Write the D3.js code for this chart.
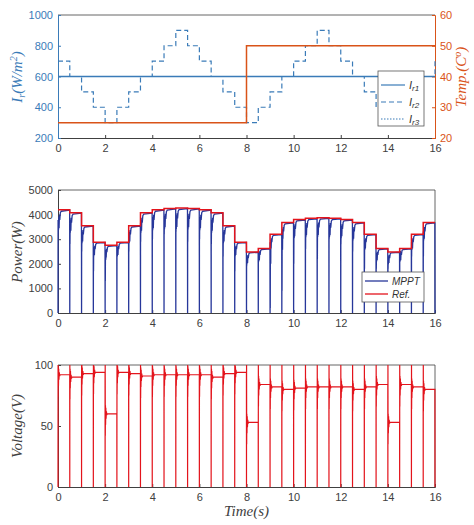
<!DOCTYPE html><html><head><meta charset="utf-8"><script src="https://cdn.jsdelivr.net/npm/d3@7"></script>
<style>body{margin:0;background:#fff}text{font-family:"Liberation Sans",Arial,sans-serif}</style></head><body><svg id="c" width="474" height="525"></svg>
<script>
const steps = d3.range(0,16,0.5);
const ir1 = 600;
const ir2 = [700,600,500,400,300,400,500,600,700,800,900,800,700,600,500,400,300,400,500,600,700,800,900,800,700,600,500,400,300,400,500,600];
const tempT = [0,8,8,16];
const tempV = [25,25,50,50];
const powerRef = [4200,4080,3550,2880,2750,2880,3550,4080,4200,4250,4270,4250,4200,4080,3550,2880,2480,2620,3200,3680,3800,3850,3870,3850,3800,3680,3200,2620,2480,2620,3200,3680];
const powerDip = [3200,2800,2500,1700,1300,2300,2500,2900,3000,3200,3300,2900,3000,2800,2300,1700,1900,2400,200,900,2000,2600,2200,3000,2800,2500,1800,1800,1800,2400,2300,2300];
const voltLevel = [92,90,93,94,60,94,93,91,92,92,92,92,92,90,93,94,53,84,82,80,81,82,82,82,82,80,82,84,53,84,82,80];
const xTicks = [0,2,4,6,8,10,12,14,16];

const svg=d3.select("#c");
const L=58,R=435;
const x=d3.scaleLinear().domain([0,16]).range([L,R]);
const tc="#404040", blue="#3a7bb8", orange="#d95319";
const fmt=d3.format("d");
function frame(g,top,bot){
  g.append("line").attr("x1",L).attr("x2",R).attr("y1",top).attr("y2",top).attr("stroke",tc).attr("stroke-width",0.8);
  g.append("line").attr("x1",R).attr("x2",R).attr("y1",top).attr("y2",bot).attr("stroke",tc).attr("stroke-width",0.8);
}
function xaxis(bot){
  const a=svg.append("g").attr("transform",`translate(0,${bot})`).call(d3.axisBottom(x).tickValues(xTicks).tickSize(-3).tickPadding(6));
  style(a,tc);
}
function style(a,col){a.select(".domain").attr("stroke",col);a.selectAll("line").attr("stroke",col);a.selectAll("text").attr("fill",col).style("font-size","11px");}
function lab(t,x0,y0,col,html){svg.append("text").attr("transform",`translate(${x0},${y0}) rotate(-90)`).attr("text-anchor","middle").attr("fill",col).style("font-family","Liberation Serif").style("font-style","italic").style("font-size","15px").html(html);}

// ---- Panel 1
const y1=d3.scaleLinear().domain([200,1000]).range([138,15]);
const y1r=d3.scaleLinear().domain([20,60]).range([138,15]);
svg.append("line").attr("x1",L).attr("x2",R).attr("y1",15).attr("y2",15).attr("stroke",tc).attr("stroke-width",0.8);
xaxis(138);
style(svg.append("g").attr("transform",`translate(${L},0)`).call(d3.axisLeft(y1).tickValues([200,400,600,800,1000]).tickFormat(fmt).tickSize(-3).tickPadding(5)),blue);
style(svg.append("g").attr("transform",`translate(${R},0)`).call(d3.axisRight(y1r).tickValues([20,30,40,50,60]).tickSize(-3).tickPadding(5)),orange);
const stepLine=d3.line().curve(d3.curveStepAfter).x(d=>x(d[0])).y(d=>y1(d[1]));
const ir2pts=steps.map((t,i)=>[t,ir2[i]]).concat([[16,700]]);
svg.append("path").attr("d",stepLine(ir2pts)).attr("fill","none").attr("stroke",blue).attr("stroke-width",1.2).attr("stroke-dasharray","5,3");
svg.append("path").attr("d",d3.line()([[x(0),y1(ir1)],[x(16),y1(ir1)]])).attr("stroke",blue).attr("stroke-width",1.4);
svg.append("path").attr("d",d3.line().x(d=>x(d)).y((d,i)=>y1r(tempV[i]))(tempT)).attr("fill","none").attr("stroke",orange).attr("stroke-width",1.5);
lab(0,22,77,blue,'I<tspan font-size="10" dy="3">r</tspan><tspan dy="-3">(W/m</tspan><tspan font-size="10" dy="-5">2</tspan><tspan dy="5">)</tspan>');
lab(0,466,77,orange,'Temp.(C<tspan font-size="10" dy="-5">o</tspan><tspan dy="5">)</tspan>');
const lg=svg.append("g");
lg.append("rect").attr("x",378).attr("y",71).attr("width",46).attr("height",55).attr("fill","#fff").attr("stroke","#555").attr("stroke-width",0.8);
[["I","r1",""],["I","r2","5,3"],["I","r3","1.5,1.5"]].forEach((d,i)=>{
  const yy=85+i*17;
  lg.append("line").attr("x1",381).attr("x2",405).attr("y1",yy).attr("y2",yy).attr("stroke",blue).attr("stroke-width",1.2).attr("stroke-dasharray",d[2]);
  lg.append("text").attr("x",409).attr("y",yy+4).attr("fill","#333").style("font-style","italic").style("font-size","11px").html(`I<tspan font-size="8" dy="2">${d[1]}</tspan>`);
});

// ---- Panel 2
const y2=d3.scaleLinear().domain([0,5000]).range([313,190]);
frame(svg,190,313);
xaxis(313);
style(svg.append("g").attr("transform",`translate(${L},0)`).call(d3.axisLeft(y2).tickValues([0,1000,2000,3000,4000,5000]).tickFormat(fmt).tickSize(-3).tickPadding(5)),tc);
const mp=[];
steps.forEach((t,i)=>{const r=powerRef[i],dp=powerDip[i];
  mp.push([t,0],[t+0.004,r*0.9],[t+0.008,dp],[t+0.014,r*0.9],[t+0.02,r*0.8],[t+0.028,dp*0.4+r*0.6],[t+0.036,r*0.93],[t+0.045,r*0.82],[t+0.06,r*0.95],[t+0.075,r*0.9],[t+0.1,r*0.97],[t+0.14,r*0.985],[t+0.495,r*0.995],[t+0.5,0]);
});
svg.append("path").attr("d",d3.line().x(d=>x(d[0])).y(d=>y2(d[1]))(mp)).attr("fill","none").attr("stroke","#27379a").attr("stroke-width",1.3);
const refPts=steps.map((t,i)=>[t,powerRef[i]]).concat([[16,powerRef[31]]]);
svg.append("path").attr("d",d3.line().curve(d3.curveStepAfter).x(d=>x(d[0])).y(d=>y2(d[1]))(refPts)).attr("fill","none").attr("stroke","#e3141c").attr("stroke-width",1.5);
lab(0,22,252,tc,"Power(W)");
const lg2=svg.append("g");
lg2.append("rect").attr("x",362).attr("y",272).attr("width",62).attr("height",30).attr("fill","#fff").attr("stroke","#555").attr("stroke-width",0.8);
[["MPPT","#27379a"],["Ref.","#e3141c"]].forEach((d,i)=>{const yy=281+i*13;
  lg2.append("line").attr("x1",365).attr("x2",388).attr("y1",yy).attr("y2",yy).attr("stroke",d[1]).attr("stroke-width",1.3);
  lg2.append("text").attr("x",392).attr("y",yy+4).attr("fill","#333").style("font-style","italic").style("font-size","10px").text(d[0]);});

// ---- Panel 3
const y3=d3.scaleLinear().domain([0,100]).range([487,365]);
frame(svg,365,487);
xaxis(487);
style(svg.append("g").attr("transform",`translate(${L},0)`).call(d3.axisLeft(y3).tickValues([0,50,100]).tickSize(-3).tickPadding(5)),tc);
const vp=[];
steps.forEach((t,i)=>{const v=voltLevel[i];
  vp.push([t,0],[t+0.003,100],[t+0.008,v-18],[t+0.014,v+7],[t+0.02,v-9],[t+0.03,v+5],[t+0.04,v-4],[t+0.055,v+2],[t+0.07,v-1],[t+0.09,v],[t+0.497,v],[t+0.5,0]);
});
svg.append("path").attr("d",d3.line().x(d=>x(d[0])).y(d=>y3(Math.min(100,d[1])))(vp)).attr("fill","none").attr("stroke","#e3141c").attr("stroke-width",1.2);
lab(0,22,426,tc,"Voltage(V)");
svg.append("text").attr("x",x(8)).attr("y",516).attr("text-anchor","middle").attr("fill",tc).style("font-family","Liberation Serif").style("font-style","italic").style("font-size","15px").text("Time(s)");
</script></body></html>
